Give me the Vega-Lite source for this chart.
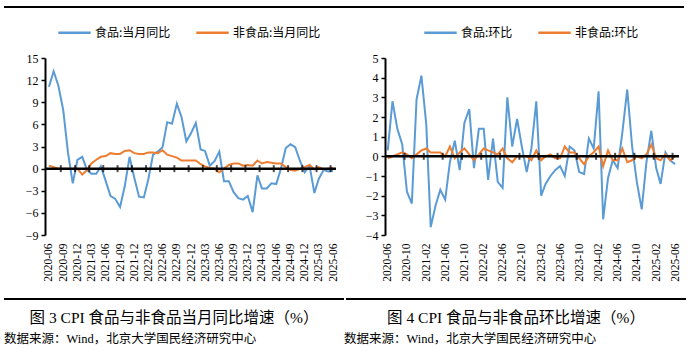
{
  "$schema": "https://vega.github.io/schema/vega-lite/v6.json",
  "background": "white",
  "padding": {"left": 3, "top": 6, "right": 5, "bottom": 0},
  "config": {
    "view": {"stroke": null},
    "font": "Noto Sans CJK SC",
    "axis": {"labelOverlap": false, "labelFlush": false}
  },
  "datasets": {
    "yoy": [
      {"m":"2020-06","food":11.1,"nonfood":0.4},{"m":"2020-07","food":13.2,"nonfood":0.2},{"m":"2020-08","food":11.2,"nonfood":0.0},{"m":"2020-09","food":7.9,"nonfood":0.0},{"m":"2020-10","food":2.2,"nonfood":0.0},{"m":"2020-11","food":-2.0,"nonfood":0.0},{"m":"2020-12","food":1.2,"nonfood":0.0},
      {"m":"2021-01","food":1.6,"nonfood":-0.8},{"m":"2021-02","food":-0.2,"nonfood":-0.2},{"m":"2021-03","food":-0.7,"nonfood":0.7},{"m":"2021-04","food":-0.7,"nonfood":1.2},{"m":"2021-05","food":0.3,"nonfood":1.6},{"m":"2021-06","food":-1.7,"nonfood":1.7},{"m":"2021-07","food":-3.7,"nonfood":2.1},{"m":"2021-08","food":-4.1,"nonfood":2.0},{"m":"2021-09","food":-5.2,"nonfood":2.0},{"m":"2021-10","food":-2.4,"nonfood":2.4},{"m":"2021-11","food":1.6,"nonfood":2.5},{"m":"2021-12","food":-1.2,"nonfood":2.1},
      {"m":"2022-01","food":-3.8,"nonfood":2.0},{"m":"2022-02","food":-3.9,"nonfood":2.0},{"m":"2022-03","food":-1.5,"nonfood":2.2},{"m":"2022-04","food":1.9,"nonfood":2.2},{"m":"2022-05","food":2.3,"nonfood":2.1},{"m":"2022-06","food":2.9,"nonfood":2.5},{"m":"2022-07","food":6.3,"nonfood":1.9},{"m":"2022-08","food":6.1,"nonfood":1.7},{"m":"2022-09","food":8.8,"nonfood":1.5},{"m":"2022-10","food":7.0,"nonfood":1.1},{"m":"2022-11","food":3.7,"nonfood":1.1},{"m":"2022-12","food":4.8,"nonfood":1.1},
      {"m":"2023-01","food":6.2,"nonfood":1.1},{"m":"2023-02","food":2.6,"nonfood":0.6},{"m":"2023-03","food":2.4,"nonfood":0.3},{"m":"2023-04","food":0.4,"nonfood":0.1},{"m":"2023-05","food":1.0,"nonfood":0.0},{"m":"2023-06","food":2.3,"nonfood":-0.5},{"m":"2023-07","food":-1.7,"nonfood":0.0},{"m":"2023-08","food":-1.7,"nonfood":0.5},{"m":"2023-09","food":-3.2,"nonfood":0.7},{"m":"2023-10","food":-4.0,"nonfood":0.7},{"m":"2023-11","food":-4.2,"nonfood":0.4},{"m":"2023-12","food":-3.7,"nonfood":0.5},
      {"m":"2024-01","food":-5.9,"nonfood":0.4},{"m":"2024-02","food":-0.9,"nonfood":1.1},{"m":"2024-03","food":-2.7,"nonfood":0.7},{"m":"2024-04","food":-2.7,"nonfood":0.9},{"m":"2024-05","food":-2.0,"nonfood":0.8},{"m":"2024-06","food":-2.1,"nonfood":0.7},{"m":"2024-07","food":0.0,"nonfood":0.7},{"m":"2024-08","food":2.8,"nonfood":0.2},{"m":"2024-09","food":3.3,"nonfood":-0.2},{"m":"2024-10","food":2.9,"nonfood":-0.3},{"m":"2024-11","food":1.0,"nonfood":0.0},{"m":"2024-12","food":-0.5,"nonfood":0.2},
      {"m":"2025-01","food":0.4,"nonfood":0.5},{"m":"2025-02","food":-3.3,"nonfood":-0.1},{"m":"2025-03","food":-1.4,"nonfood":0.2},{"m":"2025-04","food":-0.2,"nonfood":-0.1},{"m":"2025-05","food":-0.4,"nonfood":0.0},{"m":"2025-06","food":-0.3,"nonfood":0.1}
    ],
    "mom": [
      {"m":"2020-06","food":0.3,"nonfood":-0.1},{"m":"2020-07","food":2.8,"nonfood":0.0},{"m":"2020-08","food":1.4,"nonfood":0.1},{"m":"2020-09","food":0.6,"nonfood":0.2},{"m":"2020-10","food":-1.8,"nonfood":0.1},{"m":"2020-11","food":-2.4,"nonfood":-0.1},{"m":"2020-12","food":2.9,"nonfood":0.1},
      {"m":"2021-01","food":4.1,"nonfood":0.3},{"m":"2021-02","food":1.6,"nonfood":0.4},{"m":"2021-03","food":-3.6,"nonfood":0.2},{"m":"2021-04","food":-2.5,"nonfood":0.2},{"m":"2021-05","food":-1.7,"nonfood":0.2},{"m":"2021-06","food":-2.2,"nonfood":0.0},{"m":"2021-07","food":-0.3,"nonfood":0.5},{"m":"2021-08","food":0.8,"nonfood":-0.1},{"m":"2021-09","food":-0.7,"nonfood":0.2},{"m":"2021-10","food":1.7,"nonfood":0.4},{"m":"2021-11","food":2.4,"nonfood":0.1},{"m":"2021-12","food":-0.6,"nonfood":-0.2},
      {"m":"2022-01","food":1.4,"nonfood":0.1},{"m":"2022-02","food":1.4,"nonfood":0.4},{"m":"2022-03","food":-1.2,"nonfood":0.3},{"m":"2022-04","food":0.9,"nonfood":0.2},{"m":"2022-05","food":-1.3,"nonfood":0.1},{"m":"2022-06","food":-1.6,"nonfood":0.4},{"m":"2022-07","food":3.0,"nonfood":-0.1},{"m":"2022-08","food":0.5,"nonfood":-0.3},{"m":"2022-09","food":1.9,"nonfood":0.0},{"m":"2022-10","food":0.5,"nonfood":0.0},{"m":"2022-11","food":-0.8,"nonfood":0.0},{"m":"2022-12","food":0.4,"nonfood":-0.2},
      {"m":"2023-01","food":2.8,"nonfood":0.3},{"m":"2023-02","food":-2.0,"nonfood":-0.2},{"m":"2023-03","food":-1.4,"nonfood":0.0},{"m":"2023-04","food":-1.0,"nonfood":0.1},{"m":"2023-05","food":-0.7,"nonfood":-0.1},{"m":"2023-06","food":-0.5,"nonfood":-0.1},{"m":"2023-07","food":-1.0,"nonfood":0.5},{"m":"2023-08","food":0.5,"nonfood":0.2},{"m":"2023-09","food":0.3,"nonfood":0.2},{"m":"2023-10","food":-0.8,"nonfood":-0.1},{"m":"2023-11","food":-0.9,"nonfood":-0.4},{"m":"2023-12","food":0.9,"nonfood":0.0},
      {"m":"2024-01","food":0.4,"nonfood":0.2},{"m":"2024-02","food":3.3,"nonfood":0.5},{"m":"2024-03","food":-3.2,"nonfood":-0.5},{"m":"2024-04","food":-1.1,"nonfood":0.3},{"m":"2024-05","food":-0.2,"nonfood":-0.2},{"m":"2024-06","food":-0.6,"nonfood":-0.2},{"m":"2024-07","food":1.2,"nonfood":0.4},{"m":"2024-08","food":3.4,"nonfood":-0.3},{"m":"2024-09","food":0.5,"nonfood":-0.2},{"m":"2024-10","food":-1.3,"nonfood":0.0},{"m":"2024-11","food":-2.7,"nonfood":-0.1},{"m":"2024-12","food":-0.3,"nonfood":0.1},
      {"m":"2025-01","food":1.3,"nonfood":0.6},{"m":"2025-02","food":-0.6,"nonfood":-0.1},{"m":"2025-03","food":-1.4,"nonfood":-0.2},{"m":"2025-04","food":0.2,"nonfood":0.1},{"m":"2025-05","food":-0.2,"nonfood":-0.2},{"m":"2025-06","food":-0.4,"nonfood":0.0}
    ],
    "ticksL": [
      {"d":"2020-08-16"},{"d":"2020-11-16"},{"d":"2021-02-15"},{"d":"2021-05-16"},{"d":"2021-08-16"},{"d":"2021-11-16"},{"d":"2022-02-15"},{"d":"2022-05-16"},{"d":"2022-08-16"},{"d":"2022-11-16"},
      {"d":"2023-02-15"},{"d":"2023-05-16"},{"d":"2023-08-16"},{"d":"2023-11-16"},{"d":"2024-02-15"},{"d":"2024-05-16"},{"d":"2024-08-16"},{"d":"2024-11-16"},{"d":"2025-02-15"},{"d":"2025-05-16"}
    ],
    "ticksR": [
      {"d":"2020-09-16"},{"d":"2021-01-16"},{"d":"2021-05-16"},{"d":"2021-09-16"},{"d":"2022-01-16"},{"d":"2022-05-16"},{"d":"2022-09-16"},{"d":"2023-01-16"},
      {"d":"2023-05-16"},{"d":"2023-09-16"},{"d":"2024-01-16"},{"d":"2024-05-16"},{"d":"2024-09-16"},{"d":"2025-01-16"},{"d":"2025-05-16"}
    ]
  },
  "vconcat": [
    {
      "width": 680, "height": 8,
      "data": {"values": [{}]},
      "mark": {"type": "rule", "color": "black", "strokeWidth": 2},
      "encoding": {"y": {"datum": 1, "type": "quantitative", "scale": {"domain": [0, 1]}, "axis": null}}
    },
    {
      "hconcat": [
        {
          "width": 332, "height": 177,
          "layer": [
            {
              "data": {"name": "yoy", "format": {"parse": {"m": "utc:'%Y-%m'"}}},
              "transform": [{"fold": ["food", "nonfood"], "as": ["series", "value"]}],
              "mark": {"type": "line", "strokeWidth": 2},
              "encoding": {
                "x": {
                  "field": "m", "type": "temporal",
                  "scale": {"type": "utc", "domain": [{"year": 2019, "month": 8, "date": 17, "utc": true}, {"year": 2025, "month": 6, "date": 20, "utc": true}]},
                  "axis": {
                    "title": null, "domain": false, "ticks": false, "grid": false,
                    "values": [
                      {"year":2020,"month":6,"date":1,"utc":true},{"year":2020,"month":9,"date":1,"utc":true},{"year":2020,"month":12,"date":1,"utc":true},
                      {"year":2021,"month":3,"date":1,"utc":true},{"year":2021,"month":6,"date":1,"utc":true},{"year":2021,"month":9,"date":1,"utc":true},{"year":2021,"month":12,"date":1,"utc":true},
                      {"year":2022,"month":3,"date":1,"utc":true},{"year":2022,"month":6,"date":1,"utc":true},{"year":2022,"month":9,"date":1,"utc":true},{"year":2022,"month":12,"date":1,"utc":true},
                      {"year":2023,"month":3,"date":1,"utc":true},{"year":2023,"month":6,"date":1,"utc":true},{"year":2023,"month":9,"date":1,"utc":true},{"year":2023,"month":12,"date":1,"utc":true},
                      {"year":2024,"month":3,"date":1,"utc":true},{"year":2024,"month":6,"date":1,"utc":true},{"year":2024,"month":9,"date":1,"utc":true},{"year":2024,"month":12,"date":1,"utc":true},
                      {"year":2025,"month":3,"date":1,"utc":true},{"year":2025,"month":6,"date":1,"utc":true}
                    ],
                    "format": "%Y-%m", "labelAngle": -90, "labelOverlap": false, "labelFlush": false,
                    "labelFont": "Liberation Serif", "labelFontSize": 11.5, "labelColor": "#000", "labelPadding": 8
                  }
                },
                "y": {
                  "field": "value", "type": "quantitative",
                  "scale": {"domain": [-9, 15], "nice": false, "zero": false},
                  "axis": {
                    "title": null, "grid": false, "values": [-9, -6, -3, 0, 3, 6, 9, 12, 15], "offset": -41,
                    "domainColor": "#000", "domainWidth": 2, "tickColor": "#000", "tickSize": 4, "tickWidth": 1.5,
                    "labelFont": "Liberation Serif", "labelFontSize": 12, "labelColor": "#000", "labelPadding": 3,
                    "labelFlush": false, "labelOverlap": false
                  }
                },
                "color": {
                  "field": "series", "type": "nominal",
                  "scale": {"domain": ["food", "nonfood"], "range": ["#5B9BD5", "#ED7D31"]},
                  "legend": {
                    "orient": "none", "legendX": 53, "legendY": -43, "title": null, "direction": "horizontal",
                    "labelExpr": "datum.label == 'food' ? '食品:当月同比' : '非食品:当月同比'",
                    "symbolType": "stroke", "symbolSize": 1050, "symbolStrokeWidth": 2.5,
                    "labelFont": "Noto Sans CJK SC", "labelFontSize": 12, "labelColor": "#000",
                    "labelOffset": 3, "columnPadding": 20
                  }
                }
              }
            },
            {
              "data": {"values": [{}]},
              "mark": {"type": "rule", "color": "black", "strokeWidth": 2.5},
              "encoding": {
                "x": {
                  "datum": {"year": 2020, "month": 5, "date": 6, "utc": true}, "type": "temporal", "scale": {"type": "utc"},
                  "axis": {
                    "title": null, "domain": false, "ticks": false, "grid": false,
                    "values": [
                      {"year":2020,"month":6,"date":1,"utc":true},{"year":2020,"month":9,"date":1,"utc":true},{"year":2020,"month":12,"date":1,"utc":true},
                      {"year":2021,"month":3,"date":1,"utc":true},{"year":2021,"month":6,"date":1,"utc":true},{"year":2021,"month":9,"date":1,"utc":true},{"year":2021,"month":12,"date":1,"utc":true},
                      {"year":2022,"month":3,"date":1,"utc":true},{"year":2022,"month":6,"date":1,"utc":true},{"year":2022,"month":9,"date":1,"utc":true},{"year":2022,"month":12,"date":1,"utc":true},
                      {"year":2023,"month":3,"date":1,"utc":true},{"year":2023,"month":6,"date":1,"utc":true},{"year":2023,"month":9,"date":1,"utc":true},{"year":2023,"month":12,"date":1,"utc":true},
                      {"year":2024,"month":3,"date":1,"utc":true},{"year":2024,"month":6,"date":1,"utc":true},{"year":2024,"month":9,"date":1,"utc":true},{"year":2024,"month":12,"date":1,"utc":true},
                      {"year":2025,"month":3,"date":1,"utc":true},{"year":2025,"month":6,"date":1,"utc":true}
                    ],
                    "format": "%Y-%m", "labelAngle": -90, "labelOverlap": false, "labelFlush": false,
                    "labelFont": "Liberation Serif", "labelFontSize": 11.5, "labelColor": "#000", "labelPadding": 8
                  }
                },
                "x2": {"datum": {"year": 2025, "month": 6, "date": 20, "utc": true}},
                "y": {
                  "datum": 0, "type": "quantitative",
                  "axis": {
                    "title": null, "grid": false, "values": [-9, -6, -3, 0, 3, 6, 9, 12, 15], "offset": -41,
                    "domainColor": "#000", "domainWidth": 2, "tickColor": "#000", "tickSize": 4, "tickWidth": 1.5,
                    "labelFont": "Liberation Serif", "labelFontSize": 12, "labelColor": "#000", "labelPadding": 3,
                    "labelFlush": false, "labelOverlap": false
                  }
                }
              }
            },
            {
              "data": {"name": "ticksL", "format": {"parse": {"d": "utc:'%Y-%m-%d'"}}},
              "mark": {"type": "tick", "orient": "vertical", "color": "black", "size": 7, "thickness": 2},
              "encoding": {
                "x": {
                  "field": "d", "type": "temporal", "scale": {"type": "utc"},
                  "axis": {
                    "title": null, "domain": false, "ticks": false, "grid": false,
                    "values": [
                      {"year":2020,"month":6,"date":1,"utc":true},{"year":2020,"month":9,"date":1,"utc":true},{"year":2020,"month":12,"date":1,"utc":true},
                      {"year":2021,"month":3,"date":1,"utc":true},{"year":2021,"month":6,"date":1,"utc":true},{"year":2021,"month":9,"date":1,"utc":true},{"year":2021,"month":12,"date":1,"utc":true},
                      {"year":2022,"month":3,"date":1,"utc":true},{"year":2022,"month":6,"date":1,"utc":true},{"year":2022,"month":9,"date":1,"utc":true},{"year":2022,"month":12,"date":1,"utc":true},
                      {"year":2023,"month":3,"date":1,"utc":true},{"year":2023,"month":6,"date":1,"utc":true},{"year":2023,"month":9,"date":1,"utc":true},{"year":2023,"month":12,"date":1,"utc":true},
                      {"year":2024,"month":3,"date":1,"utc":true},{"year":2024,"month":6,"date":1,"utc":true},{"year":2024,"month":9,"date":1,"utc":true},{"year":2024,"month":12,"date":1,"utc":true},
                      {"year":2025,"month":3,"date":1,"utc":true},{"year":2025,"month":6,"date":1,"utc":true}
                    ],
                    "format": "%Y-%m", "labelAngle": -90, "labelOverlap": false, "labelFlush": false,
                    "labelFont": "Liberation Serif", "labelFontSize": 11.5, "labelColor": "#000", "labelPadding": 8
                  }
                },
                "y": {
                  "datum": 0, "type": "quantitative",
                  "axis": {
                    "title": null, "grid": false, "values": [-9, -6, -3, 0, 3, 6, 9, 12, 15], "offset": -41,
                    "domainColor": "#000", "domainWidth": 2, "tickColor": "#000", "tickSize": 4, "tickWidth": 1.5,
                    "labelFont": "Liberation Serif", "labelFontSize": 12, "labelColor": "#000", "labelPadding": 3,
                    "labelFlush": false, "labelOverlap": false
                  }
                }
              }
            }
          ]
        },
        {
          "width": 332, "height": 177,
          "layer": [
            {
              "data": {"name": "mom", "format": {"parse": {"m": "utc:'%Y-%m'"}}},
              "transform": [{"fold": ["food", "nonfood"], "as": ["series", "value"]}],
              "mark": {"type": "line", "strokeWidth": 2},
              "encoding": {
                "x": {
                  "field": "m", "type": "temporal",
                  "scale": {"type": "utc", "domain": [{"year": 2019, "month": 9, "date": 16, "utc": true}, {"year": 2025, "month": 6, "date": 26, "utc": true}]},
                  "axis": {
                    "title": null, "domain": false, "ticks": false, "grid": false,
                    "values": [
                      {"year":2020,"month":6,"date":1,"utc":true},{"year":2020,"month":10,"date":1,"utc":true},{"year":2021,"month":2,"date":1,"utc":true},
                      {"year":2021,"month":6,"date":1,"utc":true},{"year":2021,"month":10,"date":1,"utc":true},{"year":2022,"month":2,"date":1,"utc":true},
                      {"year":2022,"month":6,"date":1,"utc":true},{"year":2022,"month":10,"date":1,"utc":true},{"year":2023,"month":2,"date":1,"utc":true},
                      {"year":2023,"month":6,"date":1,"utc":true},{"year":2023,"month":10,"date":1,"utc":true},{"year":2024,"month":2,"date":1,"utc":true},
                      {"year":2024,"month":6,"date":1,"utc":true},{"year":2024,"month":10,"date":1,"utc":true},{"year":2025,"month":2,"date":1,"utc":true},
                      {"year":2025,"month":6,"date":1,"utc":true}
                    ],
                    "format": "%Y-%m", "labelAngle": -90, "labelOverlap": false, "labelFlush": false,
                    "labelFont": "Liberation Serif", "labelFontSize": 11.5, "labelColor": "#000", "labelPadding": 8
                  }
                },
                "y": {
                  "field": "value", "type": "quantitative",
                  "scale": {"domain": [-4, 5], "nice": false, "zero": false},
                  "axis": {
                    "title": null, "grid": false, "values": [-4, -3, -2, -1, 0, 1, 2, 3, 4, 5], "offset": -38,
                    "domainColor": "#000", "domainWidth": 2, "tickColor": "#000", "tickSize": 4, "tickWidth": 1.5,
                    "labelFont": "Liberation Serif", "labelFontSize": 12, "labelColor": "#000", "labelPadding": 3,
                    "labelFlush": false, "labelOverlap": false
                  }
                },
                "color": {
                  "field": "series", "type": "nominal",
                  "scale": {"domain": ["food", "nonfood"], "range": ["#5B9BD5", "#ED7D31"]},
                  "legend": {
                    "orient": "none", "legendX": 76, "legendY": -43, "title": null, "direction": "horizontal",
                    "labelExpr": "datum.label == 'food' ? '食品:环比' : '非食品:环比'",
                    "symbolType": "stroke", "symbolSize": 1050, "symbolStrokeWidth": 2.5,
                    "labelFont": "Noto Sans CJK SC", "labelFontSize": 12, "labelColor": "#000",
                    "labelOffset": 3, "columnPadding": 20
                  }
                }
              }
            },
            {
              "data": {"values": [{}]},
              "mark": {"type": "rule", "color": "black", "strokeWidth": 2.5},
              "encoding": {
                "x": {
                  "datum": {"year": 2020, "month": 5, "date": 15, "utc": true}, "type": "temporal", "scale": {"type": "utc"},
                  "axis": {
                    "title": null, "domain": false, "ticks": false, "grid": false,
                    "values": [
                      {"year":2020,"month":6,"date":1,"utc":true},{"year":2020,"month":10,"date":1,"utc":true},{"year":2021,"month":2,"date":1,"utc":true},
                      {"year":2021,"month":6,"date":1,"utc":true},{"year":2021,"month":10,"date":1,"utc":true},{"year":2022,"month":2,"date":1,"utc":true},
                      {"year":2022,"month":6,"date":1,"utc":true},{"year":2022,"month":10,"date":1,"utc":true},{"year":2023,"month":2,"date":1,"utc":true},
                      {"year":2023,"month":6,"date":1,"utc":true},{"year":2023,"month":10,"date":1,"utc":true},{"year":2024,"month":2,"date":1,"utc":true},
                      {"year":2024,"month":6,"date":1,"utc":true},{"year":2024,"month":10,"date":1,"utc":true},{"year":2025,"month":2,"date":1,"utc":true},
                      {"year":2025,"month":6,"date":1,"utc":true}
                    ],
                    "format": "%Y-%m", "labelAngle": -90, "labelOverlap": false, "labelFlush": false,
                    "labelFont": "Liberation Serif", "labelFontSize": 11.5, "labelColor": "#000", "labelPadding": 8
                  }
                },
                "x2": {"datum": {"year": 2025, "month": 6, "date": 26, "utc": true}},
                "y": {
                  "datum": 0, "type": "quantitative",
                  "axis": {
                    "title": null, "grid": false, "values": [-4, -3, -2, -1, 0, 1, 2, 3, 4, 5], "offset": -38,
                    "domainColor": "#000", "domainWidth": 2, "tickColor": "#000", "tickSize": 4, "tickWidth": 1.5,
                    "labelFont": "Liberation Serif", "labelFontSize": 12, "labelColor": "#000", "labelPadding": 3,
                    "labelFlush": false, "labelOverlap": false
                  }
                }
              }
            },
            {
              "data": {"name": "ticksR", "format": {"parse": {"d": "utc:'%Y-%m-%d'"}}},
              "mark": {"type": "tick", "orient": "vertical", "color": "black", "size": 7, "thickness": 2},
              "encoding": {
                "x": {
                  "field": "d", "type": "temporal", "scale": {"type": "utc"},
                  "axis": {
                    "title": null, "domain": false, "ticks": false, "grid": false,
                    "values": [
                      {"year":2020,"month":6,"date":1,"utc":true},{"year":2020,"month":10,"date":1,"utc":true},{"year":2021,"month":2,"date":1,"utc":true},
                      {"year":2021,"month":6,"date":1,"utc":true},{"year":2021,"month":10,"date":1,"utc":true},{"year":2022,"month":2,"date":1,"utc":true},
                      {"year":2022,"month":6,"date":1,"utc":true},{"year":2022,"month":10,"date":1,"utc":true},{"year":2023,"month":2,"date":1,"utc":true},
                      {"year":2023,"month":6,"date":1,"utc":true},{"year":2023,"month":10,"date":1,"utc":true},{"year":2024,"month":2,"date":1,"utc":true},
                      {"year":2024,"month":6,"date":1,"utc":true},{"year":2024,"month":10,"date":1,"utc":true},{"year":2025,"month":2,"date":1,"utc":true},
                      {"year":2025,"month":6,"date":1,"utc":true}
                    ],
                    "format": "%Y-%m", "labelAngle": -90, "labelOverlap": false, "labelFlush": false,
                    "labelFont": "Liberation Serif", "labelFontSize": 11.5, "labelColor": "#000", "labelPadding": 8
                  }
                },
                "y": {
                  "datum": 0, "type": "quantitative",
                  "axis": {
                    "title": null, "grid": false, "values": [-4, -3, -2, -1, 0, 1, 2, 3, 4, 5], "offset": -38,
                    "domainColor": "#000", "domainWidth": 2, "tickColor": "#000", "tickSize": 4, "tickWidth": 1.5,
                    "labelFont": "Liberation Serif", "labelFontSize": 12, "labelColor": "#000", "labelPadding": 3,
                    "labelFlush": false, "labelOverlap": false
                  }
                }
              }
            }
          ]
        }
      ],
      "spacing": 8,
      "resolve": {"scale": {"color": "independent"}, "legend": {"color": "independent"}}
    },
    {
      "hconcat": [
        {
          "width": 340, "height": 17,
          "data": {"values": [{}]},
          "mark": {"type": "rule", "color": "black", "strokeWidth": 2},
          "encoding": {"y": {"datum": 0, "type": "quantitative", "scale": {"domain": [0, 1]}, "axis": null}},
          "title": {"text": "图 3 CPI 食品与非食品当月同比增速（%）", "orient": "bottom", "anchor": "middle", "offset": 11,
                    "font": "Liberation Serif, Noto Sans CJK SC", "fontSize": 15.5, "fontWeight": "normal", "color": "#000"}
        },
        {
          "width": 340, "height": 17,
          "data": {"values": [{}]},
          "mark": {"type": "rule", "color": "black", "strokeWidth": 2},
          "encoding": {"y": {"datum": 0, "type": "quantitative", "scale": {"domain": [0, 1]}, "axis": null}},
          "title": {"text": "图 4 CPI 食品与非食品环比增速（%）", "orient": "bottom", "anchor": "middle", "offset": 11,
                    "font": "Liberation Serif, Noto Sans CJK SC", "fontSize": 15.5, "fontWeight": "normal", "color": "#000"}
        }
      ],
      "spacing": 0
    },
    {
      "hconcat": [
        {
          "width": 340, "height": 0,
          "data": {"values": []},
          "mark": "text",
          "title": {"text": "数据来源：Wind，北京大学国民经济研究中心", "orient": "bottom", "anchor": "start", "offset": -14,
                    "font": "Liberation Serif, Noto Sans CJK SC", "fontSize": 12.5, "fontWeight": "normal", "color": "#000"}
        },
        {
          "width": 340, "height": 0,
          "data": {"values": []},
          "mark": "text",
          "title": {"text": "数据来源：Wind，北京大学国民经济研究中心", "orient": "bottom", "anchor": "start", "offset": -14,
                    "font": "Liberation Serif, Noto Sans CJK SC", "fontSize": 12.5, "fontWeight": "normal", "color": "#000"}
        }
      ],
      "spacing": 0
    }
  ],
  "spacing": 0
}
